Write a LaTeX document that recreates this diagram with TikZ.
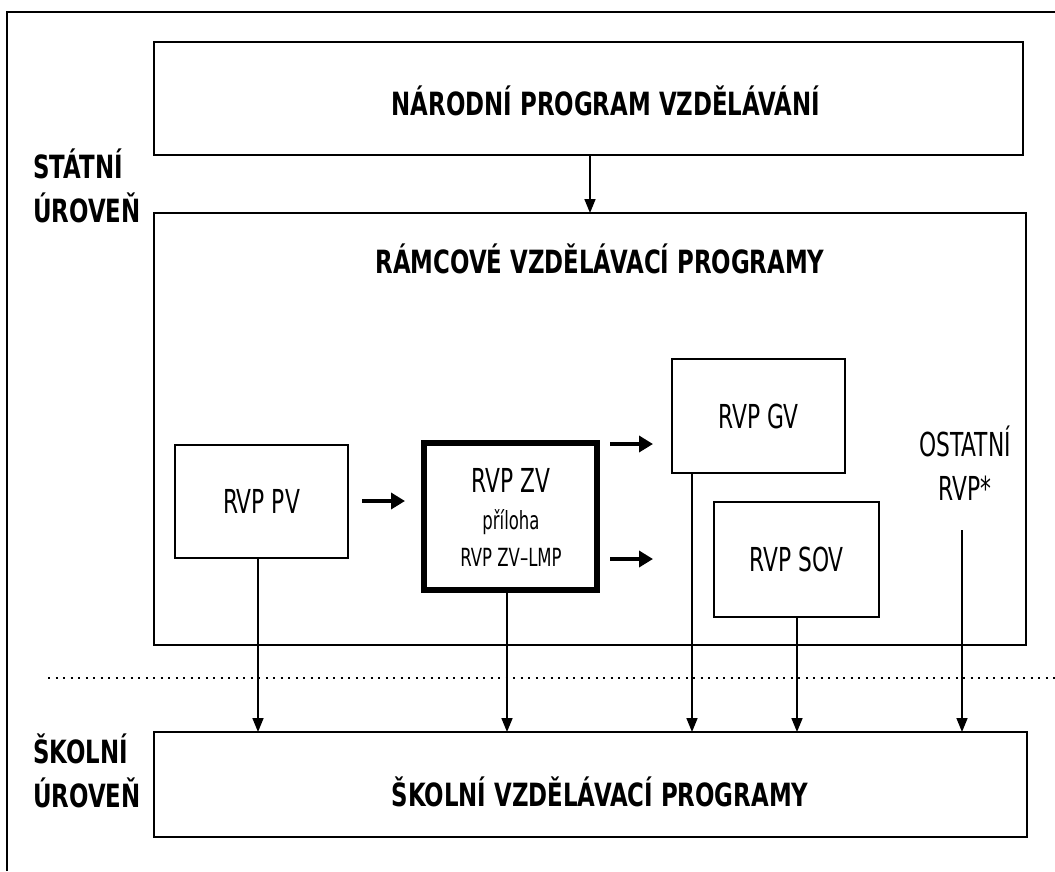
\documentclass[tikz,border=0pt]{standalone}
\usepackage{fontspec}
\usetikzlibrary{arrows.meta}
\newfontfamily\lfont[FakeStretch=0.66]{DejaVu Sans}
\newfontfamily\bfont[FakeStretch=0.715]{DejaVu Sans}
\begin{document}
\begin{tikzpicture}[x=1pt,y=-1pt,
  box/.style={draw, line width=1.6pt, inner sep=0pt, outer sep=0pt},
  thickbox/.style={draw, line width=6pt, inner sep=0pt, outer sep=0pt},
  bigtitle/.style={inner sep=0pt, font=\bfont\bfseries\fontsize{32}{37}\selectfont},
  sidelabel/.style={inner sep=0pt, anchor=west, align=left, font=\bfont\bfseries\fontsize{32}{44}\selectfont},
  rvptext/.style={font=\lfont\fontsize{33}{44}\selectfont},
  arr/.style={line width=1.6pt, -{Triangle[length=14pt,width=11pt]}},
  tarr/.style={line width=4pt, -{Triangle[length=14pt,width=16pt]}},
  dotline/.style={line width=2pt, dash pattern=on 2pt off 5.5pt}
]
\useasboundingbox (0,0) rectangle (1055,871);
% outer frame
\coordinate (f1) at (7,871);
\coordinate (f2) at (7,12);
\coordinate (f3) at (1055,12);
\draw[line width=1.6pt] (f1) -- (f2) -- (f3);

% side labels
\node[sidelabel] (statni) at (33,186) {STÁTNÍ\\ÚROVEŇ};
\node[sidelabel] (skolni) at (33,771) {ŠKOLNÍ\\ÚROVEŇ};

% main boxes
\node[box, minimum width=869pt, minimum height=113pt] (npv) at (588.5,98.5) {};
\node[bigtitle] (npvt) at (606,101) {NÁRODNÍ PROGRAM VZDĚLÁVÁNÍ};

\node[box, minimum width=872pt, minimum height=432pt] (rvp) at (590,429) {};
\node[bigtitle] (rvpt) at (600,259) {RÁMCOVÉ VZDĚLÁVACÍ PROGRAMY};

\node[box, minimum width=873pt, minimum height=105pt] (svp) at (590.5,784.5) {};
\node[bigtitle] (svpt) at (600,792) {ŠKOLNÍ VZDĚLÁVACÍ PROGRAMY};

% inner boxes
\node[box, rvptext, minimum width=173pt, minimum height=113pt] (pv) at (261.5,501.5) {RVP PV};
\node[thickbox, minimum width=173pt, minimum height=147pt] (zv) at (510.5,516.5) {};
\node[rvptext, inner sep=0pt] (zv1) at (511,480) {RVP ZV};
\node[inner sep=0pt, font=\lfont\fontsize{25}{28}\selectfont] (zv2) at (511,522) {příloha};
\node[inner sep=0pt, font=\lfont\fontsize{25}{28}\selectfont] (zv3) at (511,557) {RVP ZV–LMP};
\node[box, rvptext, minimum width=173pt, minimum height=114pt] (gv) at (758.5,416) {RVP GV};
\node[box, rvptext, minimum width=165pt, minimum height=115pt] (sov) at (796.5,559.5) {RVP SOV};
\node[rvptext, align=center, inner sep=0pt] (ost) at (965,463) {OSTATNÍ\\RVP*};

% dotted separator
\coordinate (d1) at (48,678);
\coordinate (d2) at (1055,678);
\draw[dotline] (d1) -- (d2);

% arrow national -> RVP
\coordinate (xn) at (590,0);
\draw[arr] (xn |- npv.south) -- (xn |- rvp.north);

% thick arrows
\coordinate (ya) at (0,501);
\coordinate (yb) at (0,444);
\coordinate (yc) at (0,559);
\draw[tarr, shorten <=14pt, shorten >=19pt] (pv.east |- ya) -- (zv.west |- ya);
\draw[tarr, shorten <=13pt, shorten >=19pt] (zv.east |- yb) -- (gv.west |- yb);
\draw[tarr, shorten <=13pt, shorten >=61pt] (zv.east |- yc) -- (sov.west |- yc);

% vertical arrows to school level
\coordinate (xpv) at (258,0);
\coordinate (xzv) at (507,0);
\coordinate (xgv) at (692,0);
\coordinate (xsov) at (797,0);
\coordinate (ostb) at (962,530);
\draw[arr] (xpv |- pv.south) -- (xpv |- svp.north);
\draw[arr] (xzv |- zv.south) -- (xzv |- svp.north);
\draw[arr] (xgv |- gv.south) -- (xgv |- svp.north);
\draw[arr] (xsov |- sov.south) -- (xsov |- svp.north);
\draw[arr] (ostb) -- (ostb |- svp.north);
\end{tikzpicture}
\end{document}
